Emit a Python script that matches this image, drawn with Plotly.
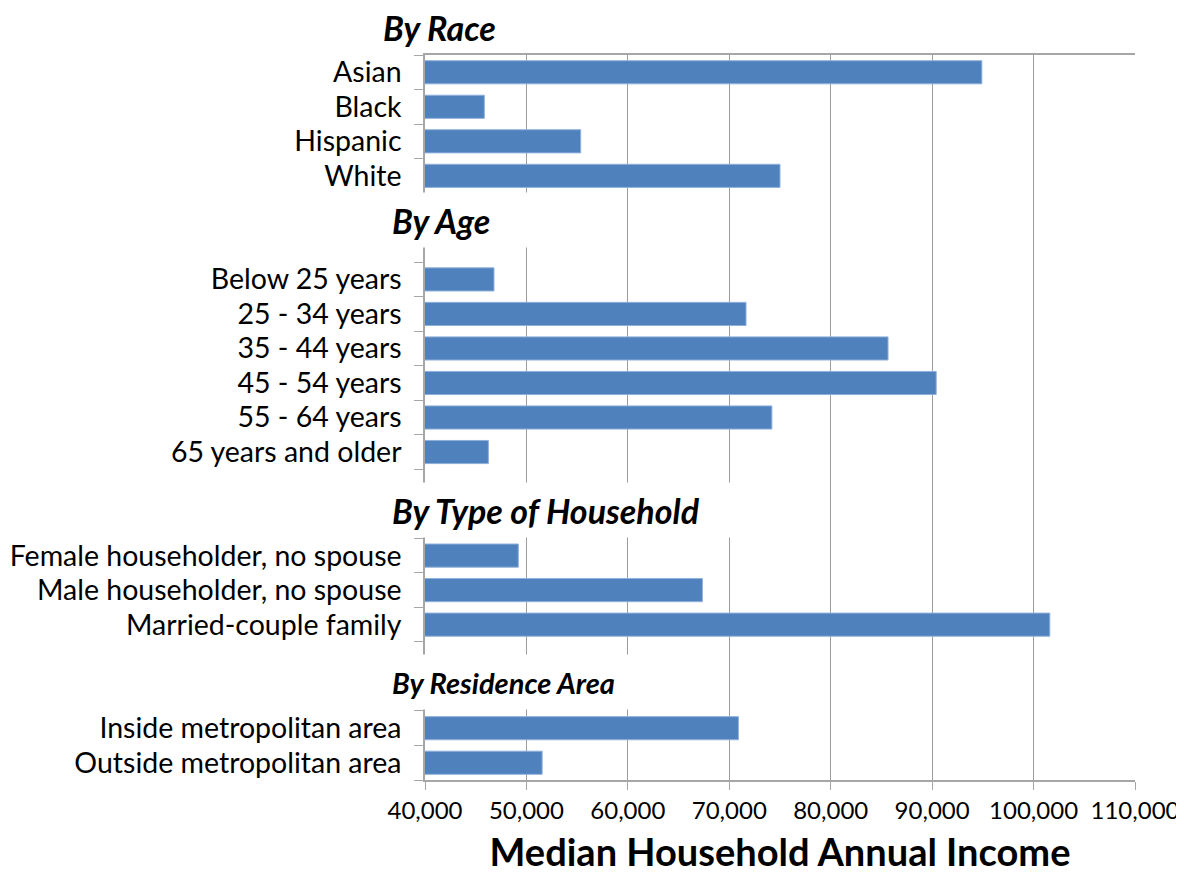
import plotly.graph_objects as go

# median household income
race_labels = ["Asian", "Black", "Hispanic", "White"]
race_values = [94900, 45850, 55350, 75000]

age_labels = ["Below 25 years", "25 - 34 years", "35 - 44 years",
              "45 - 54 years", "55 - 64 years", "65 years and older"]
age_values = [46800, 71650, 85650, 90400, 74200, 46250]

household_labels = ["Female householder, no spouse", "Male householder, no spouse",
                    "Married-couple family"]
household_values = [49200, 67350, 101600]

area_labels = ["Inside metropolitan area", "Outside metropolitan area"]
area_values = [70900, 51550]

headers = ["By Race", "By Age", "By Type of Household", "By Residence Area"]
x_ticks = [40000, 50000, 60000, 70000, 80000, 90000, 100000, 110000]

groups = [(race_labels, race_values), (age_labels, age_values),
          (household_labels, household_values), (area_labels, area_values)]

FONT = "Lato"
BAR = "#4F81BD"
GRID = "#9c9c9c"

# lay the rows out top to bottom, two empty slots in front of every group but the first
ys, xs, labels, header_pos = [], [], [], []
pos = 0
for i, (labs, vals) in enumerate(groups):
    if i > 0:
        pos += 2
    header_pos.append(pos - 1.5)
    for lab, val in zip(labs, vals):
        ys.append(pos)
        xs.append(val)
        labels.append(lab)
        pos += 1
n_rows = pos

fig = go.Figure()
fig.add_trace(go.Bar(
    x=xs, y=ys, orientation="h",
    marker=dict(color=BAR, line=dict(color="#8fb0da", width=1)),
    width=0.67, hoverinfo="x+text", hovertext=labels,
))

# header boxes: (font size, box width, vertical nudge)
header_style = [(34, 160, -7), (34, 150, 8), (34, 350, -6), (29, 267, -6)]
for text, y, (size, w, shift) in zip(headers, header_pos, header_style):
    fig.add_annotation(
        x=0, xref="paper", y=1 - (y + 0.5) / n_rows, yref="paper",
        xanchor="left", yanchor="middle",
        xshift=-35 if text != "By Race" else -44, yshift=shift,
        text=f"<b><i>{text}</i></b>", showarrow=False,
        font=dict(family=FONT, size=size, color="#000000"),
        width=w, height=52, align="left", valign="middle",
        bgcolor="#ffffff" if text != "By Race" else "rgba(0,0,0,0)",
    )

fig.update_xaxes(
    range=[40000, 110000], tickvals=x_ticks,
    ticktext=[f"{v:,}" for v in x_ticks],
    showgrid=True, gridcolor=GRID, gridwidth=1,
    showline=True, linecolor="#a6a6a6", linewidth=1.5, mirror=True,
    ticks="outside", ticklen=8, tickcolor="#a6a6a6",
    tickfont=dict(family=FONT, size=24, color="#000000"),
    ticklabeloverflow="allow",
    title=dict(text="<b>Median Household Annual Income</b>", standoff=17,
               font=dict(family=FONT, size=38, color="#000000")),
    zeroline=False, fixedrange=True, automargin=False,
)
fig.update_yaxes(
    range=[n_rows - 0.5, -0.5], tickmode="array", tickvals=ys, ticktext=labels,
    ticks="", showgrid=False, zeroline=False,
    showline=True, linecolor="#a6a6a6", linewidth=1.5,
    ticklabelstandoff=16,
    tickfont=dict(family=FONT, size=28.5, color="#000000"),
    minor=dict(tickmode="array", tickvals=[i - 0.5 for i in range(n_rows + 1)],
               ticks="outside", ticklen=9, tickcolor="#a6a6a6", showgrid=False),
    fixedrange=True, automargin=False,
)
fig.update_layout(
    width=1184, height=873,
    margin=dict(l=417, r=57, t=47, b=101),
    plot_bgcolor="#ffffff", paper_bgcolor="#ffffff",
    showlegend=False, bargap=0.33,
    font=dict(family=FONT, color="#000000"),
)

fig.write_html("out.html")
